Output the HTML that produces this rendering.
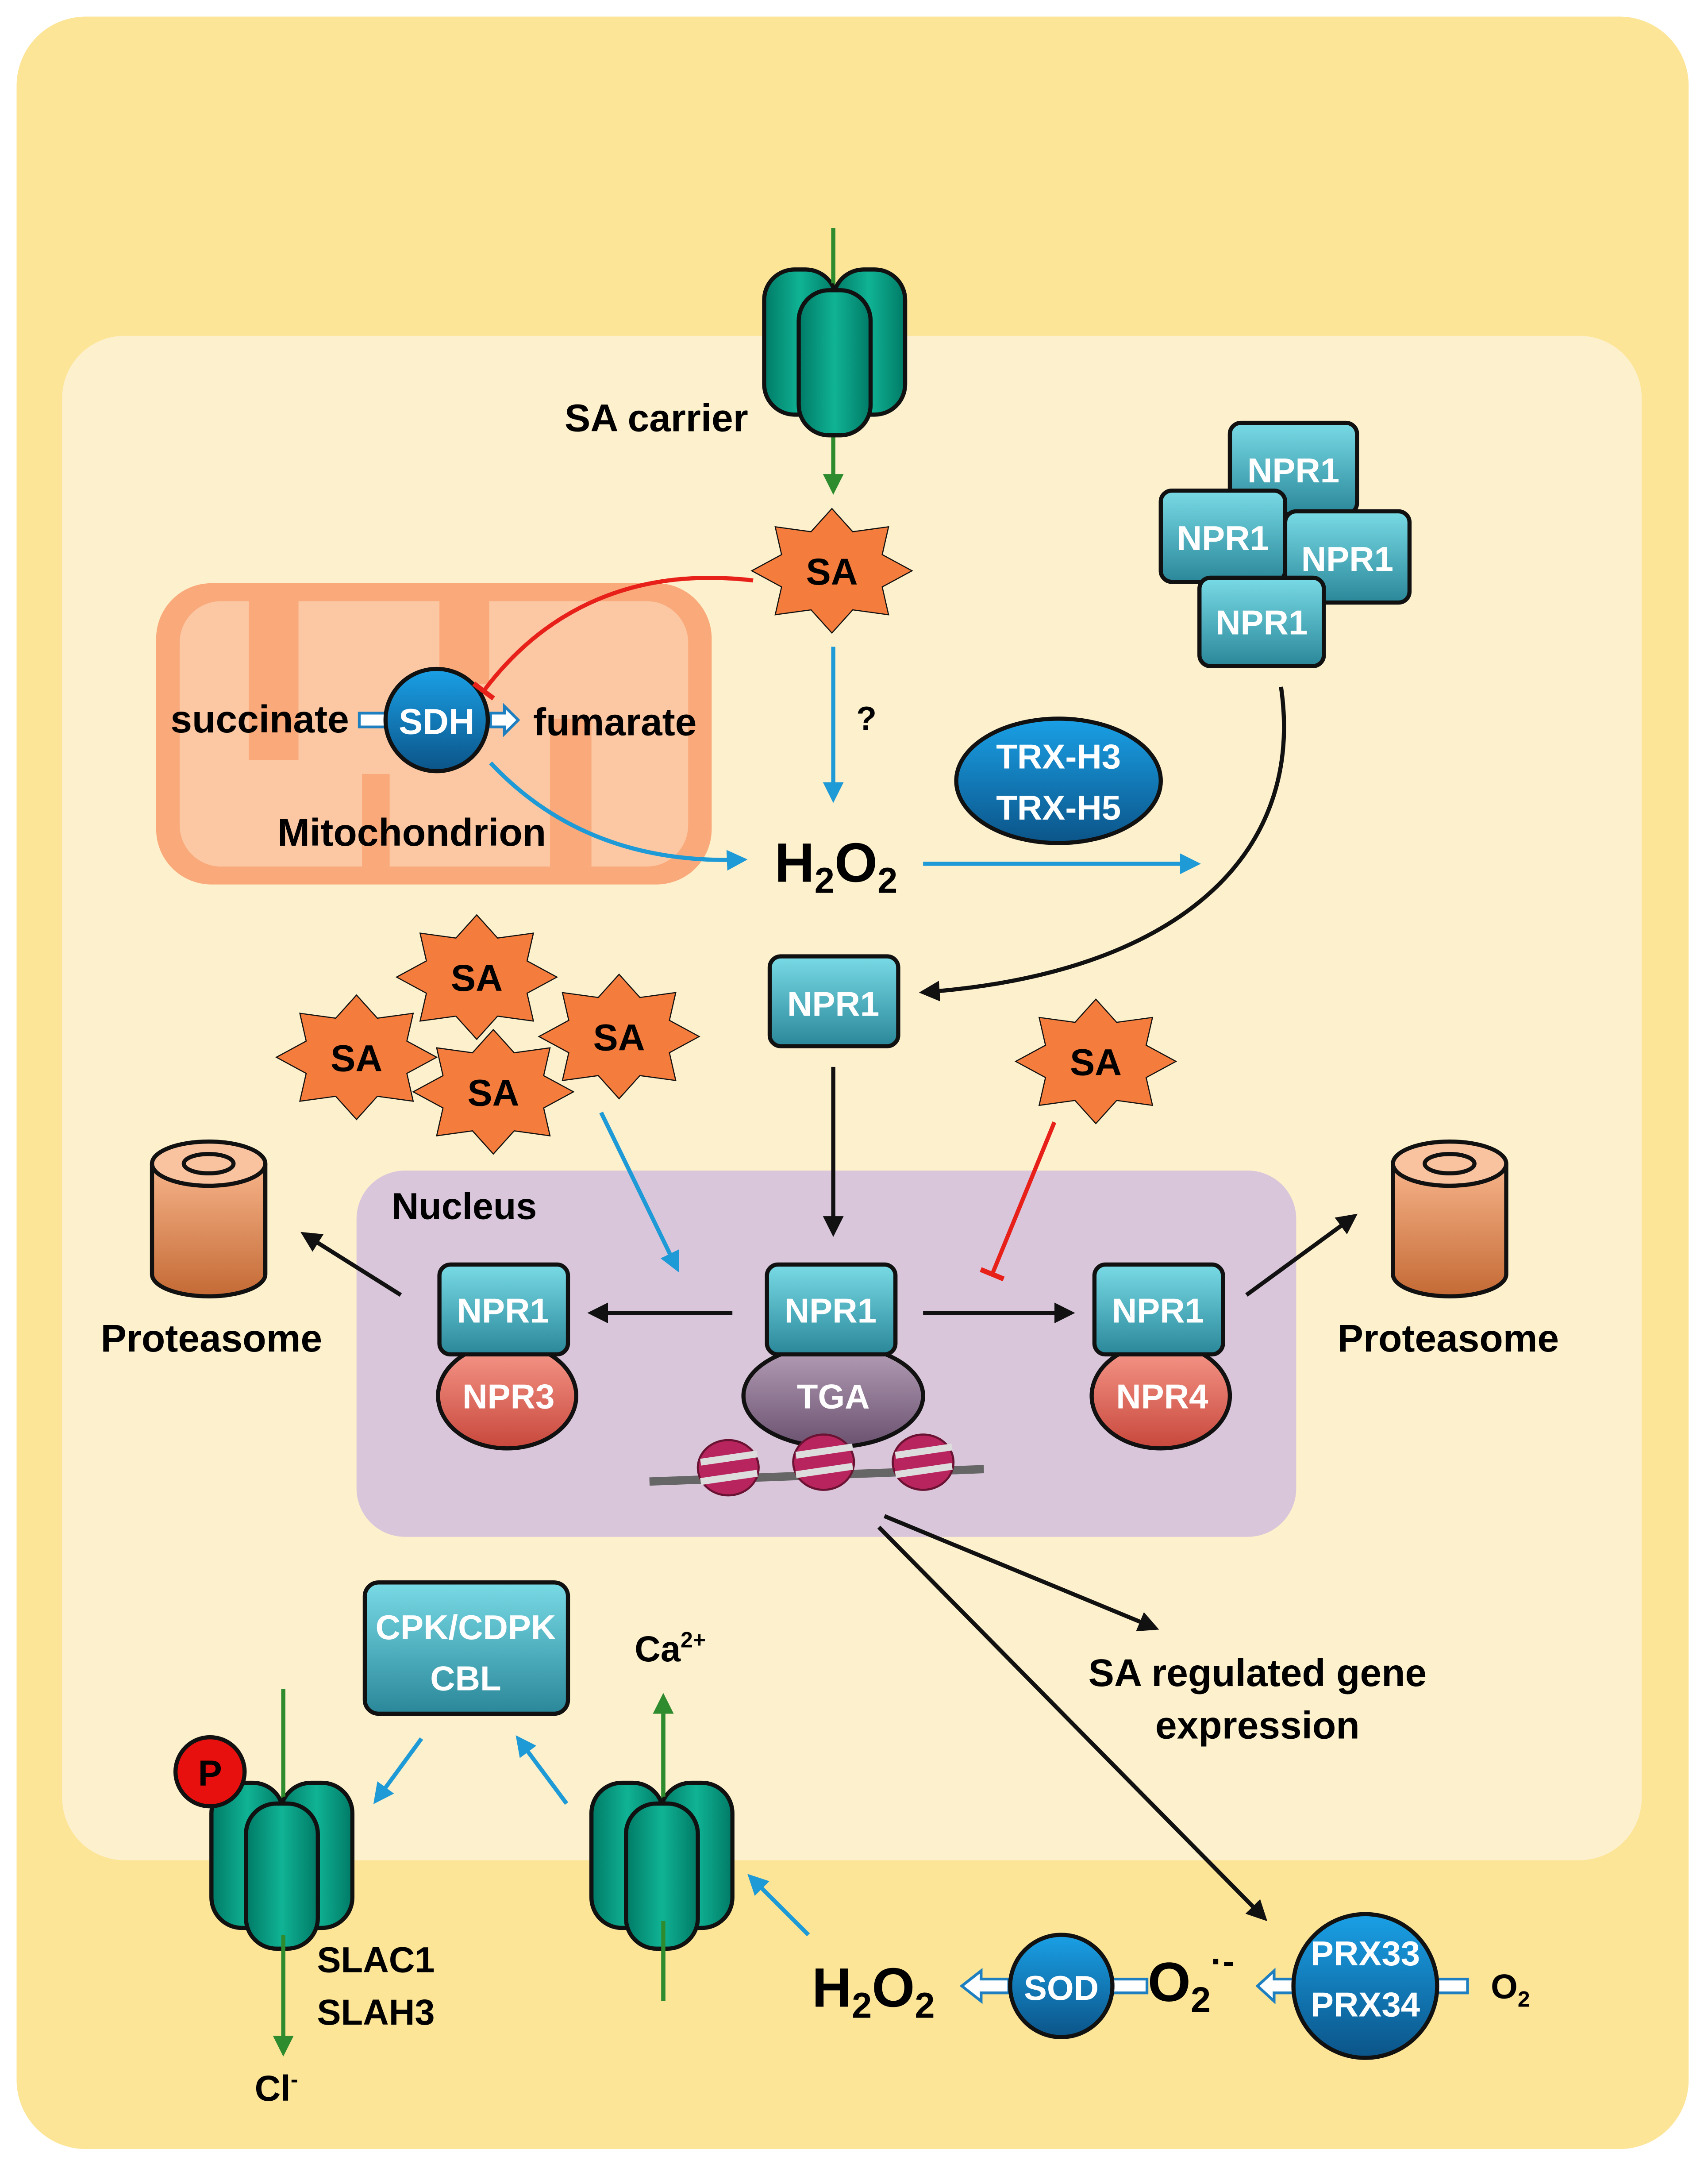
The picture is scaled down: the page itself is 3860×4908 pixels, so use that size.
<!DOCTYPE html>
<html><head><meta charset="utf-8"><style>
html,body{margin:0;padding:0;background:#fff}
svg{display:block}
text{font-family:"Liberation Sans",sans-serif;font-weight:bold}
</style></head><body>
<svg width="3860" height="4908" viewBox="0 0 1236 1571.6" preserveAspectRatio="none" xmlns="http://www.w3.org/2000/svg">
<defs>
<linearGradient id="teal" x1="0" y1="0" x2="0" y2="1"><stop offset="0" stop-color="#79dbe6"/><stop offset="1" stop-color="#2a8799"/></linearGradient>
<linearGradient id="green" x1="0" y1="0" x2="1" y2="0"><stop offset="0" stop-color="#007a66"/><stop offset="0.5" stop-color="#10b395"/><stop offset="1" stop-color="#007a66"/></linearGradient>
<linearGradient id="red" x1="0" y1="0" x2="0" y2="1"><stop offset="0" stop-color="#f79a8c"/><stop offset="1" stop-color="#c8473c"/></linearGradient>
<linearGradient id="purp" x1="0" y1="0" x2="0" y2="1"><stop offset="0" stop-color="#b7a0b8"/><stop offset="1" stop-color="#6a5270"/></linearGradient>
<linearGradient id="blue" x1="0" y1="0" x2="0" y2="1"><stop offset="0" stop-color="#1aa0e6"/><stop offset="1" stop-color="#0b5488"/></linearGradient>
<linearGradient id="prot" x1="0" y1="0" x2="0" y2="1"><stop offset="0" stop-color="#f7b48a"/><stop offset="1" stop-color="#c46a35"/></linearGradient>
<polygon id="star" points="1,0 0.628,0.26 0.707,0.707 0.26,0.628 0,1 -0.26,0.628 -0.707,0.707 -0.628,0.26 -1,0 -0.628,-0.26 -0.707,-0.707 -0.26,-0.628 0,-1 0.26,-0.628 0.707,-0.707 0.628,-0.26" fill="#f47c3c" stroke="#111" stroke-width="2.5" vector-effect="non-scaling-stroke"/>
<marker id="ab" viewBox="0 0 10 10" refX="8" refY="5" markerWidth="5" markerHeight="5" orient="auto"><path d="M0,0L10,5L0,10z" fill="#111"/></marker>
<marker id="abl" viewBox="0 0 10 10" refX="8" refY="5" markerWidth="5" markerHeight="5" orient="auto"><path d="M0,0L10,5L0,10z" fill="#1e9ad6"/></marker>
<marker id="agr" viewBox="0 0 10 10" refX="8" refY="5" markerWidth="5" markerHeight="5" orient="auto"><path d="M0,0L10,5L0,10z" fill="#2e8b2e"/></marker>
<marker id="tbar" viewBox="0 0 10 10" refX="5" refY="5" markerWidth="6" markerHeight="6" orient="auto"><path d="M5,0L5,10" stroke="#e8201a" stroke-width="2"/></marker>
<g id="chan">
<rect x="0" y="10" width="52" height="105" rx="22" fill="url(#green)" stroke="#111" stroke-width="3"/>
<rect x="50" y="10" width="52" height="105" rx="22" fill="url(#green)" stroke="#111" stroke-width="3"/>
<rect x="25" y="25" width="52" height="105" rx="22" fill="url(#green)" stroke="#111" stroke-width="3"/>
</g>
<g id="prots">
<path d="M0,0 v80 a41,16 0 0 0 82,0 v-80" fill="url(#prot)" stroke="#111" stroke-width="3"/>
<ellipse cx="41" cy="0" rx="41" ry="16" fill="#f9c3a0" stroke="#111" stroke-width="3"/>
<ellipse cx="41" cy="0" rx="18" ry="7" fill="#f9c3a0" stroke="#111" stroke-width="3"/>
</g>
</defs>
<rect x="12" y="12" width="1210" height="1543" rx="50" fill="#fde598"/>
<rect x="45" y="243" width="1143" height="1103" rx="45" fill="#fdf0cc"/>
<rect x="113" y="422" width="402" height="218" rx="40" fill="#f9a97a"/>
<rect x="130" y="435" width="368" height="192" rx="30" fill="#fcc8a3"/>
<g fill="#f9a97a"><rect x="180" y="435" width="36" height="115"/><rect x="318" y="435" width="36" height="60"/><rect x="262" y="560" width="20" height="67"/><rect x="398" y="520" width="30" height="107"/></g>
<rect x="258" y="847" width="680" height="265" rx="35" fill="#d9c6db"/>
<line x1="603" y1="165" x2="603" y2="355" stroke="#2e8b2e" stroke-width="3" marker-end="url(#agr)"/>
<use href="#chan" x="553" y="185"/>
<line x1="603" y1="165" x2="603" y2="205" stroke="#2e8b2e" stroke-width="3"/>
<text x="475" y="312" font-size="28" text-anchor="middle">SA carrier</text>
<use href="#star" transform="translate(602,413) scale(58,45)"/>
<text x="602" y="423" font-size="27" text-anchor="middle">SA</text>
<line x1="603" y1="468" x2="603" y2="578" stroke="#1e9ad6" stroke-width="3" marker-end="url(#abl)"/>
<text x="627" y="528" font-size="24" text-anchor="middle">?</text>
<text x="188" y="530" font-size="28" text-anchor="middle">succinate</text>
<rect x="260" y="516" width="20" height="10" fill="#fff" stroke="#1e7fc0" stroke-width="2"/>
<path d="M355,516h10v-5l10,10l-10,10v-5h-10z" fill="#fff" stroke="#1e7fc0" stroke-width="2"/>
<circle cx="316" cy="521" r="37" fill="url(#blue)" stroke="#111" stroke-width="3"/>
<text x="316" y="531" font-size="26" text-anchor="middle" fill="#fff">SDH</text>
<path d="M545,420 C460,410 395,440 350,500" stroke="#e8201a" stroke-width="3" fill="none" marker-end="url(#tbar)"/>
<text x="445" y="532" font-size="28" text-anchor="middle">fumarate</text>
<text x="298" y="612" font-size="28" text-anchor="middle">Mitochondrion</text>
<path d="M355,552 C400,600 460,625 538,622" stroke="#1e9ad6" stroke-width="3" fill="none" marker-end="url(#abl)"/>
<text x="605" y="638" font-size="40" text-anchor="middle">H<tspan font-size="26" dy="8">2</tspan><tspan dy="-8">O</tspan><tspan font-size="26" dy="8">2</tspan></text>
<line x1="668" y1="625" x2="866" y2="625" stroke="#1e9ad6" stroke-width="3" marker-end="url(#abl)"/>
<ellipse cx="766" cy="565" rx="74" ry="45" fill="url(#blue)" stroke="#111" stroke-width="3"/>
<text x="766" y="556" font-size="25" text-anchor="middle" fill="#fff">TRX-H3</text>
<text x="766" y="593" font-size="25" text-anchor="middle" fill="#fff">TRX-H5</text>
<g font-size="25" fill="#fff" text-anchor="middle">
<rect x="890" y="306" width="92" height="66" rx="8" fill="url(#teal)" stroke="#111" stroke-width="3"/>
<rect x="840" y="355" width="90" height="66" rx="8" fill="url(#teal)" stroke="#111" stroke-width="3"/>
<rect x="930" y="370" width="90" height="66" rx="8" fill="url(#teal)" stroke="#111" stroke-width="3"/>
<rect x="868" y="418" width="90" height="64" rx="8" fill="url(#teal)" stroke="#111" stroke-width="3"/>
<text x="936" y="349">NPR1</text><text x="885" y="398">NPR1</text><text x="975" y="413">NPR1</text><text x="913" y="459">NPR1</text>
</g>
<path d="M927,497 C945,620 850,705 668,718" stroke="#111" stroke-width="3" fill="none" marker-end="url(#ab)"/>
<rect x="557" y="692" width="93" height="65" rx="8" fill="url(#teal)" stroke="#111" stroke-width="3"/>
<text x="603" y="735" font-size="25" text-anchor="middle" fill="#fff">NPR1</text>
<line x1="603" y1="772" x2="603" y2="892" stroke="#111" stroke-width="3" marker-end="url(#ab)"/>
<g font-size="27" text-anchor="middle">
<use href="#star" transform="translate(345,707) scale(58,45)"/><text x="345" y="717">SA</text>
<use href="#star" transform="translate(258,765) scale(58,45)"/><text x="258" y="775">SA</text>
<use href="#star" transform="translate(448,750) scale(58,45)"/><text x="448" y="760">SA</text>
<use href="#star" transform="translate(357,790) scale(58,45)"/><text x="357" y="800">SA</text>
<use href="#star" transform="translate(793,768) scale(58,45)"/><text x="793" y="778">SA</text>
</g>
<line x1="435" y1="805" x2="490" y2="918" stroke="#1e9ad6" stroke-width="3" marker-end="url(#abl)"/>
<line x1="763" y1="812" x2="718" y2="922" stroke="#e8201a" stroke-width="3" marker-end="url(#tbar)"/>
<text x="336" y="882" font-size="27" text-anchor="middle">Nucleus</text>
<use href="#prots" x="110" y="842"/>
<use href="#prots" x="1008" y="842"/>
<text x="153" y="978" font-size="28" text-anchor="middle">Proteasome</text>
<text x="1048" y="978" font-size="28" text-anchor="middle">Proteasome</text>
<line x1="290" y1="937" x2="220" y2="893" stroke="#111" stroke-width="3" marker-end="url(#ab)"/>
<line x1="902" y1="937" x2="980" y2="880" stroke="#111" stroke-width="3" marker-end="url(#ab)"/>
<line x1="530" y1="950" x2="428" y2="950" stroke="#111" stroke-width="3" marker-end="url(#ab)"/>
<line x1="668" y1="950" x2="775" y2="950" stroke="#111" stroke-width="3" marker-end="url(#ab)"/>
<ellipse cx="367" cy="1010" rx="50" ry="38" fill="url(#red)" stroke="#111" stroke-width="3"/>
<ellipse cx="840" cy="1010" rx="50" ry="38" fill="url(#red)" stroke="#111" stroke-width="3"/>
<ellipse cx="603" cy="1010" rx="65" ry="37" fill="url(#purp)" stroke="#111" stroke-width="3"/>
<g font-size="25" fill="#fff" text-anchor="middle">
<rect x="318" y="915" width="93" height="65" rx="8" fill="url(#teal)" stroke="#111" stroke-width="3"/>
<rect x="555" y="915" width="93" height="65" rx="8" fill="url(#teal)" stroke="#111" stroke-width="3"/>
<rect x="792" y="915" width="93" height="65" rx="8" fill="url(#teal)" stroke="#111" stroke-width="3"/>
<text x="364" y="957">NPR1</text><text x="601" y="957">NPR1</text><text x="838" y="957">NPR1</text>
<text x="368" y="1019">NPR3</text><text x="603" y="1019">TGA</text><text x="841" y="1019">NPR4</text>
</g>
<line x1="470" y1="1072" x2="712" y2="1063" stroke="#666" stroke-width="6"/>
<g fill="#b8245e" stroke="#6a1232" stroke-width="1.5">
<ellipse cx="527" cy="1062" rx="22" ry="20"/><ellipse cx="596" cy="1058" rx="22" ry="20"/><ellipse cx="668" cy="1058" rx="22" ry="20"/>
</g>
<g stroke="#ddd" stroke-width="5"><line x1="507" y1="1058" x2="548" y2="1052"/><line x1="507" y1="1072" x2="548" y2="1066"/><line x1="576" y1="1053" x2="617" y2="1047"/><line x1="576" y1="1067" x2="617" y2="1061"/><line x1="648" y1="1053" x2="689" y2="1047"/><line x1="648" y1="1067" x2="689" y2="1061"/></g>
<line x1="640" y1="1097" x2="836" y2="1178" stroke="#111" stroke-width="3" marker-end="url(#ab)"/>
<line x1="636" y1="1105" x2="915" y2="1388" stroke="#111" stroke-width="3" marker-end="url(#ab)"/>
<text x="910" y="1220" font-size="28" text-anchor="middle">SA regulated gene</text>
<text x="910" y="1258" font-size="28" text-anchor="middle">expression</text>
<rect x="264" y="1145" width="147" height="95" rx="10" fill="url(#teal)" stroke="#111" stroke-width="3"/>
<text x="337" y="1186" font-size="25" fill="#fff" text-anchor="middle">CPK/CDPK</text>
<text x="337" y="1223" font-size="25" fill="#fff" text-anchor="middle">CBL</text>
<line x1="305" y1="1258" x2="272" y2="1303" stroke="#1e9ad6" stroke-width="3" marker-end="url(#abl)"/>
<line x1="410" y1="1305" x2="375" y2="1258" stroke="#1e9ad6" stroke-width="3" marker-end="url(#abl)"/>
<line x1="205" y1="1222" x2="205" y2="1485" stroke="#2e8b2e" stroke-width="3" marker-end="url(#agr)"/>
<use href="#chan" x="153" y="1280"/>
<line x1="205" y1="1222" x2="205" y2="1300" stroke="#2e8b2e" stroke-width="3"/>
<line x1="205" y1="1400" x2="205" y2="1485" stroke="#2e8b2e" stroke-width="3" marker-end="url(#agr)"/>
<circle cx="152" cy="1282" r="25" fill="#e8100e" stroke="#111" stroke-width="3"/>
<text x="152" y="1292" font-size="26" text-anchor="middle">P</text>
<text x="272" y="1427" font-size="26" text-anchor="middle">SLAC1</text>
<text x="272" y="1465" font-size="26" text-anchor="middle">SLAH3</text>
<text x="200" y="1520" font-size="26" text-anchor="middle">Cl<tspan font-size="16" dy="-10">-</tspan></text>
<line x1="480" y1="1448" x2="480" y2="1228" stroke="#2e8b2e" stroke-width="3" marker-end="url(#agr)"/>
<use href="#chan" x="428" y="1280"/>
<line x1="480" y1="1448" x2="480" y2="1390" stroke="#2e8b2e" stroke-width="3"/>
<line x1="480" y1="1300" x2="480" y2="1228" stroke="#2e8b2e" stroke-width="3" marker-end="url(#agr)"/>
<text x="485" y="1202" font-size="26" text-anchor="middle">Ca<tspan font-size="16" dy="-10">2+</tspan></text>
<line x1="585" y1="1400" x2="543" y2="1358" stroke="#1e9ad6" stroke-width="3" marker-end="url(#abl)"/>
<text x="632" y="1452" font-size="40" text-anchor="middle">H<tspan font-size="26" dy="8">2</tspan><tspan dy="-8">O</tspan><tspan font-size="26" dy="8">2</tspan></text>
<path d="M730,1432 h-20 v-6 l-14,11 l14,11 v-6 h20 z" fill="#fff" stroke="#1e7fc0" stroke-width="2"/>
<rect x="805" y="1432" width="25" height="10" fill="#fff" stroke="#1e7fc0" stroke-width="2"/>
<circle cx="768" cy="1437" r="37" fill="url(#blue)" stroke="#111" stroke-width="3"/>
<text x="768" y="1447" font-size="25" text-anchor="middle" fill="#fff">SOD</text>
<text x="862" y="1448" font-size="40" text-anchor="middle">O<tspan font-size="26" dy="8">2</tspan><tspan font-size="26" dy="-28">·-</tspan></text>
<path d="M936,1432 h-14 v-6 l-12,11 l12,11 v-6 h14 z" fill="#fff" stroke="#1e7fc0" stroke-width="2"/>
<rect x="1040" y="1432" width="22" height="10" fill="#fff" stroke="#1e7fc0" stroke-width="2"/>
<circle cx="988" cy="1437" r="52" fill="url(#blue)" stroke="#111" stroke-width="3"/>
<text x="988" y="1422" font-size="25" text-anchor="middle" fill="#fff">PRX33</text>
<text x="988" y="1459" font-size="25" text-anchor="middle" fill="#fff">PRX34</text>
<text x="1093" y="1446" font-size="25" text-anchor="middle">O<tspan font-size="16" dy="6">2</tspan></text>
</svg>
</body></html>
